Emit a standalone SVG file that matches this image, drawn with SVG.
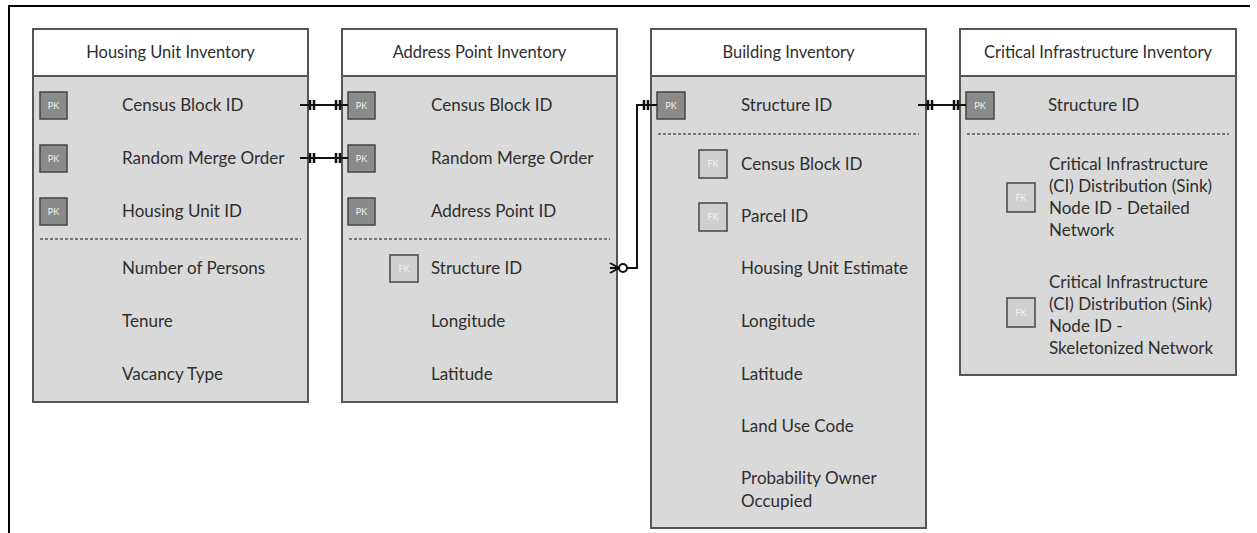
<svg xmlns="http://www.w3.org/2000/svg" width="1257" height="533" viewBox="0 0 1257 533">
  <style>
    .frame { fill: none; stroke: #000; stroke-width: 2; }
    .hdr { fill: #ffffff; stroke: #555; stroke-width: 2; }
    .body { fill: #d9d9d9; stroke: #555; stroke-width: 2; }
    .title { font-family: Lato, "Liberation Sans", sans-serif; font-size: 16.5px; fill: #2e2e2e; text-anchor: middle; }
    .fld { font-family: Lato, "Liberation Sans", sans-serif; font-size: 17px; fill: #2e2e2e; }
    .pk { fill: #8a8a8a; stroke: #444; stroke-width: 1.5; }
    .fk { fill: #cfcfcf; stroke: #444; stroke-width: 1.5; }
    .keytxt { font-family: Lato, "Liberation Sans", sans-serif; font-size: 9px; fill: #f2f2f2; text-anchor: middle; }
    .sep { stroke: #555; stroke-width: 1.5; stroke-dasharray: 3 2; }
    .rel { fill: none; stroke: #111; stroke-width: 2; }
    .bar { stroke: #111; stroke-width: 2.5; }
  </style>

  <!-- page frame -->
  <path class="frame" d="M9 533 V6 H1250"/>

  <!-- Housing Unit Inventory -->
  <g id="housing-unit-inventory">
    <rect class="body" x="33" y="76" width="275" height="326"/>
    <rect class="hdr" x="33" y="29" width="275" height="47"/>
    <text class="title" x="170.5" y="58">Housing Unit Inventory</text>
    <rect class="pk" x="40" y="92" width="27" height="27"/>
    <text class="keytxt" x="53.5" y="109">PK</text>
    <text class="fld" x="122" y="111">Census Block ID</text>
    <rect class="pk" x="40" y="145" width="27" height="27"/>
    <text class="keytxt" x="53.5" y="162">PK</text>
    <text class="fld" x="122" y="164">Random Merge Order</text>
    <rect class="pk" x="40" y="198" width="27" height="27"/>
    <text class="keytxt" x="53.5" y="215">PK</text>
    <text class="fld" x="122" y="217">Housing Unit ID</text>
    <line class="sep" x1="40" y1="239" x2="301" y2="239"/>
    <text class="fld" x="122" y="274">Number of Persons</text>
    <text class="fld" x="122" y="327">Tenure</text>
    <text class="fld" x="122" y="380">Vacancy Type</text>
  </g>

  <!-- Address Point Inventory -->
  <g id="address-point-inventory">
    <rect class="body" x="342" y="76" width="275" height="326"/>
    <rect class="hdr" x="342" y="29" width="275" height="47"/>
    <text class="title" x="479.5" y="58">Address Point Inventory</text>
    <rect class="pk" x="348" y="92" width="27" height="27"/>
    <text class="keytxt" x="361.5" y="109">PK</text>
    <text class="fld" x="431" y="111">Census Block ID</text>
    <rect class="pk" x="348" y="145" width="27" height="27"/>
    <text class="keytxt" x="361.5" y="162">PK</text>
    <text class="fld" x="431" y="164">Random Merge Order</text>
    <rect class="pk" x="348" y="198" width="27" height="27"/>
    <text class="keytxt" x="361.5" y="215">PK</text>
    <text class="fld" x="431" y="217">Address Point ID</text>
    <line class="sep" x1="349" y1="239" x2="610" y2="239"/>
    <rect class="fk" x="390" y="255" width="28" height="27"/>
    <text class="keytxt" x="404" y="272">FK</text>
    <text class="fld" x="431" y="274">Structure ID</text>
    <text class="fld" x="431" y="327">Longitude</text>
    <text class="fld" x="431" y="380">Latitude</text>
  </g>

  <!-- Building Inventory -->
  <g id="building-inventory">
    <rect class="body" x="651" y="76" width="275" height="452"/>
    <rect class="hdr" x="651" y="29" width="275" height="47"/>
    <text class="title" x="788.5" y="58">Building Inventory</text>
    <rect class="pk" x="657" y="92" width="28" height="27"/>
    <text class="keytxt" x="671" y="109">PK</text>
    <text class="fld" x="741" y="111">Structure ID</text>
    <line class="sep" x1="658" y1="134" x2="919" y2="134"/>
    <rect class="fk" x="699" y="150" width="28" height="28"/>
    <text class="keytxt" x="713" y="167">FK</text>
    <text class="fld" x="741" y="170">Census Block ID</text>
    <rect class="fk" x="699" y="203" width="28" height="28"/>
    <text class="keytxt" x="713" y="220">FK</text>
    <text class="fld" x="741" y="222">Parcel ID</text>
    <text class="fld" x="741" y="274">Housing Unit Estimate</text>
    <text class="fld" x="741" y="327">Longitude</text>
    <text class="fld" x="741" y="380">Latitude</text>
    <text class="fld" x="741" y="432">Land Use Code</text>
    <text class="fld" x="741" y="484">Probability Owner</text>
    <text class="fld" x="741" y="507">Occupied</text>
  </g>

  <!-- Critical Infrastructure Inventory -->
  <g id="critical-infrastructure-inventory">
    <rect class="body" x="960" y="76" width="276" height="299"/>
    <rect class="hdr" x="960" y="29" width="276" height="47"/>
    <text class="title" x="1098" y="58">Critical Infrastructure Inventory</text>
    <rect class="pk" x="966" y="92" width="28" height="27"/>
    <text class="keytxt" x="980" y="109">PK</text>
    <text class="fld" x="1048" y="111">Structure ID</text>
    <line class="sep" x1="967" y1="134" x2="1229" y2="134"/>
    <rect class="fk" x="1007" y="183" width="28" height="29"/>
    <text class="keytxt" x="1021" y="201">FK</text>
    <text class="fld" x="1049" y="170">Critical Infrastructure</text>
    <text class="fld" x="1049" y="192">(CI) Distribution (Sink)</text>
    <text class="fld" x="1049" y="214">Node ID - Detailed</text>
    <text class="fld" x="1049" y="236">Network</text>
    <rect class="fk" x="1007" y="298" width="28" height="29"/>
    <text class="keytxt" x="1021" y="316">FK</text>
    <text class="fld" x="1049" y="288">Critical Infrastructure</text>
    <text class="fld" x="1049" y="310">(CI) Distribution (Sink)</text>
    <text class="fld" x="1049" y="332">Node ID -</text>
    <text class="fld" x="1049" y="354">Skeletonized Network</text>
  </g>

  <!-- relationships -->
  <g id="connectors">
    <!-- Census Block ID: one and only one on both ends -->
    <line class="rel" x1="300" y1="105" x2="348" y2="105"/>
    <path class="bar" d="M310 100 V110 M314 100 V110 M336 100 V110 M340 100 V110"/>
    <!-- Random Merge Order -->
    <line class="rel" x1="300" y1="158" x2="348" y2="158"/>
    <path class="bar" d="M310 153 V163 M314 153 V163 M336 153 V163 M340 153 V163"/>
    <!-- Structure ID: zero or many to one and only one -->
    <path class="rel" d="M610 268 H619 M627 268 H637 V105 H657"/>
    <path class="rel" d="M610 263 L619 268 L610 273"/>
    <circle cx="623" cy="268" r="4" fill="#fff" stroke="#111" stroke-width="2"/>
    <path class="bar" d="M644 100 V110 M648 100 V110"/>
    <!-- Structure ID: building to critical infrastructure -->
    <line class="rel" x1="918" y1="105" x2="966" y2="105"/>
    <path class="bar" d="M928 100 V110 M932 100 V110 M954 100 V110 M958 100 V110"/>
  </g>
</svg>
